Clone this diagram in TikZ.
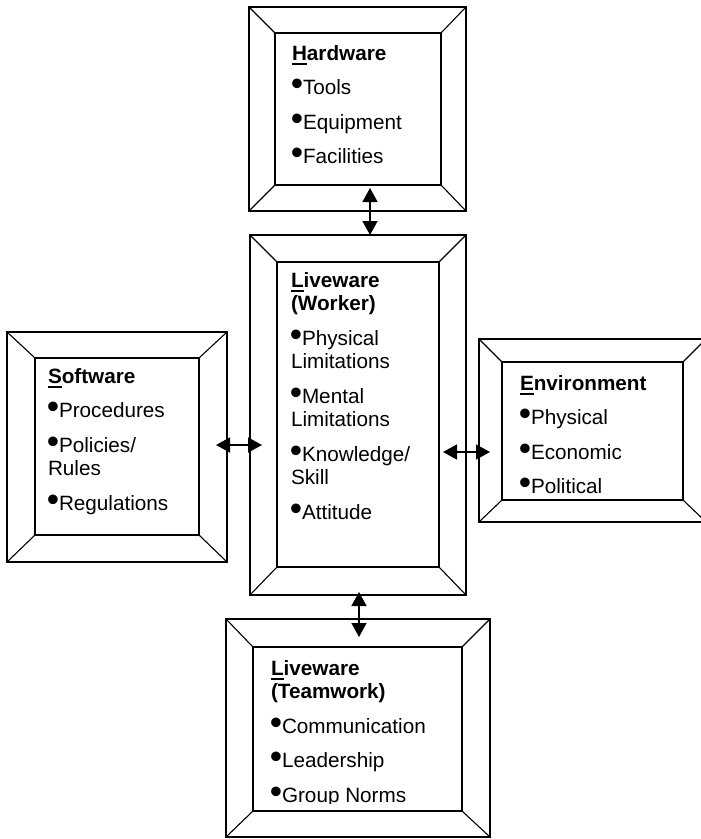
\documentclass[tikz,border=0pt]{standalone}
\usepackage{fontspec}
\setmainfont{Liberation Sans}
\usetikzlibrary{arrows.meta,fit}
\newcommand\fl[1]{\setbox0\hbox{#1}\rlap{\rule[-4.8pt]{\wd0}{2pt}}\box0}
\newcommand\bul{\makebox[11pt][l]{\hspace{-1.2pt}\raisebox{-1pt}{\scalebox{1.7}{•}}}}
\newcommand\fs{\fontsize{20.7}{23.5}\selectfont}
\newcommand\ft{\rule{0pt}{17pt}}
\tikzset{
  obox/.style={draw, line width=1.8pt, inner sep=0pt, outer sep=0pt},
  ibox/.style={draw, line width=1.4pt, inner sep=0pt, outer sep=0pt},
  diag/.style={line width=1.1pt},
  txt/.style={anchor=north west, inner sep=0pt, outer sep=0pt, align=left, font=\fs},
  biarrow/.style={line width=1.5pt, {Triangle[width=15pt,length=14pt]}-{Triangle[width=15pt,length=14pt]}},
}
\newcommand\bevel[3]{%
  \node[obox, fit={#2}] (#1o) {};
  \node[ibox, fit={#3}] (#1i) {};
  \draw[diag] (#1o.north west) -- (#1i.north west);
  \draw[diag] (#1o.north east) -- (#1i.north east);
  \draw[diag] (#1o.south west) -- (#1i.south west);
  \draw[diag] (#1o.south east) -- (#1i.south east);
}
\begin{document}
\begin{tikzpicture}[x=1pt,y=-1pt]
\useasboundingbox (0,0) rectangle (701,839);
\clip (0,0) rectangle (701,839);
% frames
\bevel{hw}{(249,7) (466,211)}{(275,33) (441,185)}
\bevel{wk}{(250,235) (466,595)}{(277,262) (439,567)}
\bevel{sw}{(7,332) (227,562)}{(35,358) (199,535)}
\bevel{en}{(479,339) (706,522)}{(502,362) (683,500)}
\bevel{tw}{(226,619) (490,837)}{(253,647) (462,811)}
% texts
\node[txt] (hwt) at (292,43) {\ft\textbf{\fl{H}ardware}\\[11pt]\bul Tools\\[11pt]\bul Equipment\\[11pt]\bul Facilities};
\node[txt] (wkt) at (291,270) {\ft\textbf{\fl{L}iveware}\\\textbf{(Worker)}\\[11pt]\bul Physical\\Limitations\\[11pt]\bul Mental\\Limitations\\[11pt]\bul Knowledge/\\Skill\\[11pt]\bul Attitude};
\node[txt] (swt) at (48,366) {\ft\textbf{\fl{S}oftware}\\[11pt]\bul Procedures\\[11pt]\bul Policies/\\Rules\\[11pt]\bul Regulations};
\node[txt] (ent) at (520,373) {\ft\textbf{\fl{E}nvironment}\\[11pt]\bul Physical\\[11pt]\bul Economic\\[11pt]\bul Political};
\begin{scope}
\clip (250,640) rectangle (470,803);
\node[txt] (twt) at (271,658) {\ft\textbf{\fl{L}iveware}\\\textbf{(Teamwork)}\\[11pt]\bul Communication\\[11pt]\bul Leadership\\[11pt]\bul Group Norms};
\end{scope}
% arrow end points
\coordinate (a1) at (370,188);
\coordinate (a2) at (370,235);
\coordinate (b1) at (359,592);
\coordinate (b2) at (359,637);
\coordinate (c1) at (216,445);
\coordinate (c2) at (262,445);
\coordinate (d1) at (443,452);
\coordinate (d2) at (490,452);
\draw[biarrow] (a1) -- (a2);
\draw[biarrow] (b1) -- (b2);
\draw[biarrow] (c1) -- (c2);
\draw[biarrow] (d1) -- (d2);
\end{tikzpicture}
\end{document}
